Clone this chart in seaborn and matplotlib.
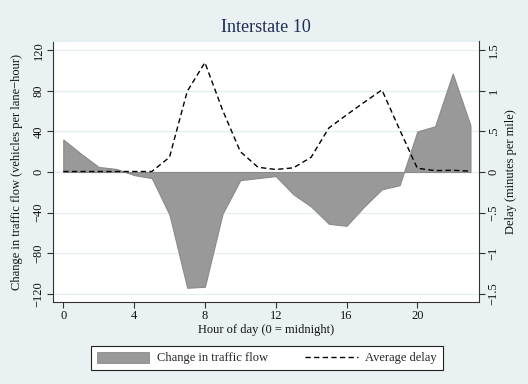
import matplotlib
matplotlib.use("Agg")
import matplotlib.pyplot as plt
import seaborn as sns
import pandas as pd
from matplotlib.patches import Patch
from matplotlib.lines import Line2D

hours = list(range(24))
flow_change = [32, 18, 5, 3, -3, -6, -42, -114, -113, -41, -8, -6,
               -4, -22, -34, -51, -53, -34, -17, -13, 40, 45, 97, 46]
avg_delay = [0.005, 0.005, 0.005, 0.005, 0.005, 0.005, 0.18, 0.99, 1.345, 0.76, 0.25, 0.057,
             0.03, 0.05, 0.18, 0.54, 0.70, 0.857, 1.008, 0.52, 0.045, 0.016, 0.02, 0.01]

left_ticks = [-120, -80, -40, 0, 40, 80, 120]
left_labels = ["\u2212120", "\u221280", "\u221240", "0", "40", "80", "120"]
right_ticks = [-1.5, -1, -0.5, 0, 0.5, 1, 1.5]
right_labels = ["\u22121.5", "\u22121", "\u2212.5", "0", ".5", "1", "1.5"]
x_ticks = [0, 4, 8, 12, 16, 20]

df = pd.DataFrame({"hour": hours, "flow": flow_change, "delay": avg_delay})

sns.set_theme(style="white")
plt.rcParams["font.family"] = ["Liberation Serif", "DejaVu Serif"]

bg = "#E9F1F3"
fig = plt.figure(figsize=(5.28, 3.84), dpi=100, facecolor=bg)
ax = fig.add_axes([53 / 528, 1 - 302 / 384, 426.3 / 528, 261 / 384])
ax.set_facecolor("white")

# horizontal grid on the flow axis
for t in left_ticks:
    ax.axhline(t, color="#E4EEF1", lw=0.9, zorder=0)

# shaded change in traffic flow
ax.fill_between(df["hour"], 0, df["flow"], facecolor="#999999",
                edgecolor="#8a8a8a", lw=0.8, zorder=2)

ax.set_xlim(-0.58, 23.5)
ax.set_ylim(-128, 129)
ax.set_xticks(x_ticks)
ax.set_xticklabels([str(t) for t in x_ticks])
ax.set_yticks(left_ticks)
ax.set_yticklabels(left_labels, rotation=90, va="center")
ax.tick_params(axis="both", direction="out", length=4, width=0.8,
               color="#333333", labelsize=9, pad=2, labelcolor="#111111")
ax.tick_params(axis="y", left=True)
ax.tick_params(axis="x", bottom=True)
for side in ["left", "bottom"]:
    ax.spines[side].set_color("#333333")
    ax.spines[side].set_linewidth(0.8)
ax.spines["top"].set_color("#E4EEF1")
ax.spines["right"].set_visible(False)
ax.set_xlabel("Hour of day (0 = midnight)", fontsize=9, color="#111111", labelpad=1)
ax.set_ylabel("Change in traffic flow (vehicles per lane\u2212hour)", fontsize=9,
              color="#111111")
ax.yaxis.set_label_coords(-0.07, 0.5)

# average delay on the secondary axis
ax2 = ax.twinx()
sns.lineplot(data=df, x="hour", y="delay", ax=ax2, color="black", lw=1.0,
             dashes=False, linestyle=(0, (3.8, 2.4)), zorder=3)
ax2.set_ylim(-1.6, 1.61)
ax2.set_yticks(right_ticks)
ax2.set_yticklabels(right_labels, rotation=90, va="center")
ax2.tick_params(axis="y", direction="out", length=4, width=0.8, right=True,
                color="#333333", labelsize=9, pad=2, labelcolor="#111111")
ax2.spines["right"].set_color("#333333")
ax2.spines["right"].set_linewidth(0.8)
for side in ["left", "top", "bottom"]:
    ax2.spines[side].set_visible(False)
ax2.set_xlabel("")
ax2.set_ylabel("Delay (minutes per mile)", fontsize=9, color="#111111", rotation=90)
ax2.yaxis.set_label_coords(1.06, 0.5)

fig.text(266 / 528, 1 - 27 / 384, "Interstate 10", ha="center", va="center",
         fontsize=13, color="#1F2D55")

handles = [Patch(facecolor="#999999", edgecolor="#8a8a8a", lw=0.6),
           Line2D([0], [0], color="black", lw=1.0, linestyle=(0, (3.8, 2.4)))]
leg = fig.legend(handles, ["Change in traffic flow", "Average delay"],
                 loc="center", bbox_to_anchor=(267 / 528, 1 - 358 / 384),
                 ncol=2, fontsize=9, frameon=True, fancybox=False,
                 handlelength=4.2, handleheight=1.0, columnspacing=3.0,
                 handletextpad=0.6, borderpad=0.45)
leg.get_frame().set_edgecolor("#222222")
leg.get_frame().set_linewidth(0.8)
leg.get_frame().set_facecolor("white")
leg.get_frame().set_alpha(1)

fig.savefig("out.png", dpi=100, facecolor=bg)
